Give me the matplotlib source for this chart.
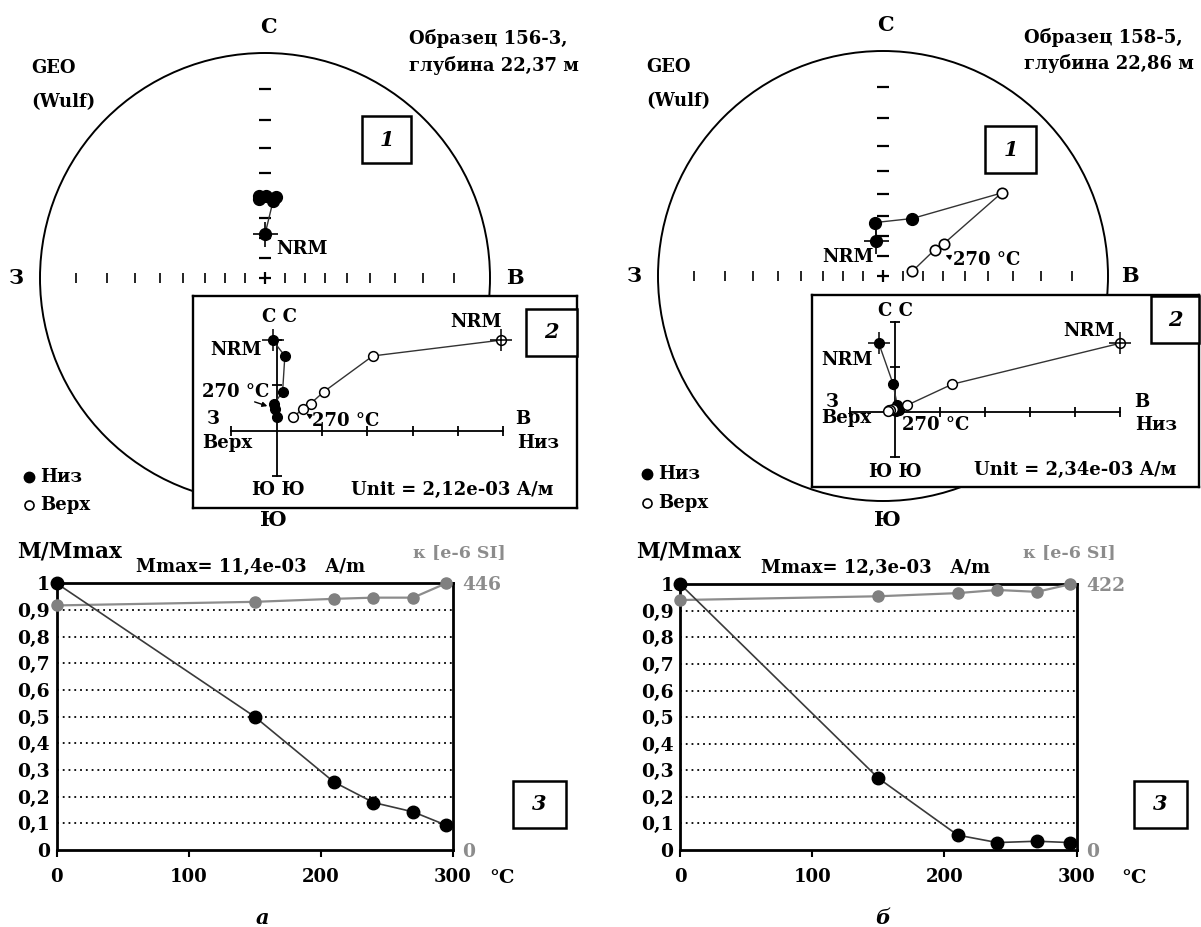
import numpy as np
import matplotlib
matplotlib.use('Agg')
import matplotlib.pyplot as plt
from matplotlib.patches import Rectangle, Circle

# ---------------- data ----------------
temps = [0, 150, 210, 240, 270, 295]
m_a = [1.0, 0.50, 0.255, 0.178, 0.143, 0.093]          # M/Mmax, sample 156-3
k_a = [409, 415, 420, 422, 422, 446]                   # kappa e-6 SI
m_b = [1.0, 0.27, 0.056, 0.028, 0.033, 0.028]          # M/Mmax, sample 158-5
k_b = [397, 403, 408, 413, 410, 422]
kmax_a, kmax_b = 446, 422
ylabels = ['0', '0,1', '0,2', '0,3', '0,4', '0,5', '0,6', '0,7', '0,8', '0,9', '1']
xlabels = ['0', '100', '200', '300']

# stereonet directions (declination, inclination)
st_dec_a = [0, 6, 8, 356, 356, 1]
st_inc_a = [68, 52, 50, 51, 50, 50]
st_dec_b = [349, 352, 27, 55, 62, 63, 81]
st_inc_b = [72, 63, 58, -24.5, -56, -61, -75]

# Zijderveld components (in plot units)
zN_a = [2.0, 1.65, 0.86, 0.60, 0.49, 0.31]
zE_a = [-0.09, 0.18, 0.13, -0.05, -0.04, 0.0]
zZ_a = [4.96, 2.12, 1.04, 0.75, 0.59, 0.37]
zN_b = [1.52, 0.61, 0.14, 0.07, 0.04, 0.03, 0.01]
zE_b = [-0.36, -0.04, 0.05, 0.10, 0.08, 0.06, 0.03]
zZ_b = [5.0, 1.27, 0.26, -0.05, -0.13, -0.11, -0.15]

# ---------------- figure ----------------
W, H = 1201, 927
plt.rcParams['font.family'] = ['DejaVu Serif']
plt.rcParams['font.weight'] = 'bold'
fig = plt.figure(figsize=(W / 100, H / 100), dpi=100)
fig.patch.set_facecolor('white')


def px_rect(x0, y0, x1, y1):
    return [x0 / W, 1 - y1 / H, (x1 - x0) / W, (y1 - y0) / H]


def draw_net(cx, cy, R, dec, inc):
    ax = fig.add_axes(px_rect(cx - R, cy - R, cx + R, cy + R), zorder=1)
    ax.set_xlim(-1, 1)
    ax.set_ylim(-1, 1)
    ax.axis('off')
    ax.add_patch(Circle((0, 0), 1, fill=False, lw=1.4, ec='black', clip_on=False))
    rt = np.tan(np.radians(45 - np.arange(10, 90, 10) / 2))
    xs = np.concatenate([-rt, rt])
    ax.plot(xs, np.zeros_like(xs), ls='none', marker='|', ms=7, mew=1.2, color='k')
    ax.plot(np.zeros_like(xs), xs, ls='none', marker='_', ms=8, mew=1.6, color='k')
    ax.plot([0], [0], marker='+', ms=8, mew=1.6, color='k')
    d = np.radians(dec)
    i = np.array(inc, dtype=float)
    r = np.tan(np.radians(45 - np.abs(i) / 2))
    x = r * np.sin(d)
    y = r * np.cos(d)
    ax.plot(x, y, color='#333333', lw=1.0, zorder=2)
    down = i >= 0
    ax.plot(x[down], y[down], 'o', ms=8.5, mfc='k', mec='k', ls='none', zorder=3)
    ax.plot(x[~down], y[~down], 'o', ms=7.5, mfc='white', mec='k', mew=1.2,
            ls='none', zorder=3)
    ax.plot(x[0], y[0], marker='+', ms=18, mew=1.2, color='k', zorder=4)
    return ax


def draw_zij(box, origin, unit, N, E, Z):
    x0, y0, x1, y1 = box
    ox, oy = origin
    ax = fig.add_axes(px_rect(x0, y0, x1, y1), zorder=5)
    ax.set_facecolor('white')
    ax.set_xlim(-(ox - x0) / unit, (x1 - ox) / unit)
    ax.set_ylim(-(y1 - oy) / unit, (oy - y0) / unit)
    ax.set_xticks([])
    ax.set_yticks([])
    for s in ax.spines.values():
        s.set_linewidth(1.7)
        s.set_color('k')
    ax.plot([-1, 5], [0, 0], 'k-', lw=1.3)
    ax.plot([0, 0], [-1, 2], 'k-', lw=1.3)
    ax.plot([-1, 1, 2, 3, 4, 5], [0] * 6, ls='none', marker='|', ms=7, mew=1.3, color='k')
    ax.plot([0, 0, 0], [-1, 1, 2], ls='none', marker='_', ms=7, mew=1.3, color='k')
    ax.plot(E, N, color='#333333', lw=1.0)
    ax.plot(Z, N, color='#333333', lw=1.0)
    ax.plot(E, N, 'o', ms=7, color='k', ls='none')
    ax.plot(Z, N, 'o', ms=7, mfc='white', mec='k', mew=1.1, ls='none')
    ax.plot([E[0], Z[0]], [N[0], N[0]], '+', ms=16, mew=1.1, color='k', ls='none')
    return ax


def draw_decay(box, m, k, kmax):
    ax = fig.add_axes(px_rect(*box), zorder=2)
    ax.set_xlim(0, 300)
    ax.set_ylim(0, 1)
    ax.set_yticks(np.linspace(0, 1, 11))
    ax.set_yticklabels(ylabels, fontsize=13.5, fontweight='bold')
    ax.set_xticks([0, 100, 200, 300])
    ax.set_xticklabels(xlabels, fontsize=13, fontweight='bold')
    ax.tick_params(axis='y', length=0, pad=5)
    ax.tick_params(axis='x', length=5, width=1.5, pad=8, direction='out')
    for s in ax.spines.values():
        s.set_linewidth(2)
        s.set_color('k')
    for yv in np.linspace(0.1, 0.9, 9):
        ax.axhline(yv, ls=(0, (1, 2.2)), color='k', lw=1.3, zorder=1)
    ax2 = ax.twinx()
    ax2.set_ylim(0, kmax)
    ax2.set_yticks([0, kmax])
    ax2.set_yticklabels(['0', str(kmax)], fontsize=13.5, fontweight='bold', color='#8c8c8c')
    ax2.tick_params(axis='y', length=0, pad=7)
    for s in ax2.spines.values():
        s.set_visible(False)
    ax2.plot(temps, k, color='#8c8c8c', lw=1.6, marker='o', ms=8, mfc='#808080',
             mec='#808080', clip_on=False, zorder=2)
    ax2.plot(temps, np.array(m) * kmax, color='#3a3a3a', lw=1.2, marker='o', ms=9,
             mfc='k', mec='k', clip_on=False, zorder=3)
    return ax


draw_net(265, 278, 225, st_dec_a, st_inc_a)
draw_net(883, 276, 225, st_dec_b, st_inc_b)
draw_zij((193, 296, 577, 508), (276.7, 430.7), 45.3, zN_a, zE_a, zZ_a)
draw_zij((811.7, 295, 1199, 486.7), (895, 411.7), 45, zN_b, zE_b, zZ_b)
draw_decay((56.6, 583.3, 452.7, 850), m_a, k_a, kmax_a)
draw_decay((680.4, 584.3, 1076.5, 850), m_b, k_b, kmax_b)

# ---------------- overlay for labels ----------------
ov = fig.add_axes([0, 0, 1, 1], zorder=10)
ov.set_xlim(0, W)
ov.set_ylim(H, 0)
ov.axis('off')
ov.patch.set_alpha(0)


def t(x, y, s, size=13, ha='center', color='k', style='normal'):
    ov.text(x, y, s, fontsize=size, ha=ha, va='center', color=color,
            fontweight='bold', fontstyle=style)


def box(x0, y0, x1, y1, s, size=15):
    ov.add_patch(Rectangle((x0, y0), x1 - x0, y1 - y0, fc='white', ec='k', lw=1.8))
    t((x0 + x1) / 2, (y0 + y1) / 2, s, size=size, style='italic')


def arrow(x0, y0, x1, y1):
    ov.annotate('', xy=(x1, y1), xytext=(x0, y0),
                arrowprops=dict(arrowstyle='-|>', lw=1.0, color='k', mutation_scale=7))


# left panel (a)
t(268, 27, 'С', 15)
t(16, 278, 'З', 15)
t(515, 278, 'В', 15)
t(273, 520, 'Ю', 15)
t(31, 68, 'GEO', 13, ha='left')
t(31, 102, '(Wulf)', 13, ha='left')
t(409, 38, 'Образец 156-3,', 13, ha='left')
t(409, 65, 'глубина 22,37 м', 13, ha='left')
box(362, 116, 411, 163, '1')
t(276, 249, 'NRM', 13, ha='left')
# inset a
t(279.5, 316.5, 'С С', 13)
t(262, 350, 'NRM', 13, ha='right')
t(236, 392, '270 °C', 13)
arrow(252, 401, 270, 407)
t(213, 419, 'З', 13)
t(227, 443, 'Верх', 13)
t(523, 419, 'В', 13)
t(538, 443, 'Низ', 13)
t(346, 421, '270 °C', 13)
arrow(313, 418, 304, 412)
t(476, 322, 'NRM', 13)
t(278, 490, 'Ю Ю', 13)
t(452, 490, 'Unit = 2,12e-03 А/м', 13)
box(526, 309, 577, 356, '2')
# legend a
ov.plot([29], [477], 'o', ms=7.5, color='k')
ov.plot([29], [505], 'o', ms=6.5, mfc='white', mec='k', mew=1.2)
t(40, 477, 'Низ', 13, ha='left')
t(40, 505, 'Верх', 13, ha='left')

# right panel (b)
t(885, 25, 'С', 15)
t(634, 276, 'З', 15)
t(1130, 276, 'В', 15)
t(887, 520, 'Ю', 15)
t(646, 67, 'GEO', 13, ha='left')
t(646, 101, '(Wulf)', 13, ha='left')
t(1024, 37, 'Образец 158-5,', 13, ha='left')
t(1024, 63, 'глубина 22,86 м', 13, ha='left')
box(985, 126, 1036, 173, '1')
t(874, 257, 'NRM', 13, ha='right')
t(987, 260, '270 °C', 13)
arrow(952, 258, 943, 254)
# inset b
t(895.5, 311.5, 'С С', 13)
t(873, 360, 'NRM', 13, ha='right')
t(1089, 331, 'NRM', 13)
t(832, 401.7, 'З', 13)
t(846, 418, 'Верх', 13)
t(1142, 401.7, 'В', 13)
t(1156, 425, 'Низ', 13)
t(936, 425, '270 °C', 13)
t(895, 471.7, 'Ю Ю', 13)
t(1075.5, 470, 'Unit = 2,34e-03 А/м', 13)
box(1151, 296, 1199, 343, '2')
ov.plot([647], [474], 'o', ms=7.5, color='k')
ov.plot([647], [503], 'o', ms=6.5, mfc='white', mec='k', mew=1.2)
t(658, 474, 'Низ', 13, ha='left')
t(658, 503, 'Верх', 13, ha='left')

# bottom charts
t(17, 551, 'M/Mmax', 15.5, ha='left')
t(136, 567, 'Mmax= 11,4e-03   A/m', 13, ha='left')
t(413, 553, 'κ [e-6 SI]', 12.5, ha='left', color='#8c8c8c')
t(502, 878, '°C', 14)
box(513, 781, 566, 828, '3')
t(262, 918, 'а', 15, style='italic')

t(636, 552, 'M/Mmax', 15.5, ha='left')
t(761, 568, 'Mmax= 12,3e-03   A/m', 13, ha='left')
t(1023, 553, 'κ [e-6 SI]', 12.5, ha='left', color='#8c8c8c')
t(1134, 878, '°C', 14)
box(1134, 781, 1187, 828, '3')
t(883, 918, 'б', 15, style='italic')

fig.savefig('out.png', dpi=100, facecolor='white')
